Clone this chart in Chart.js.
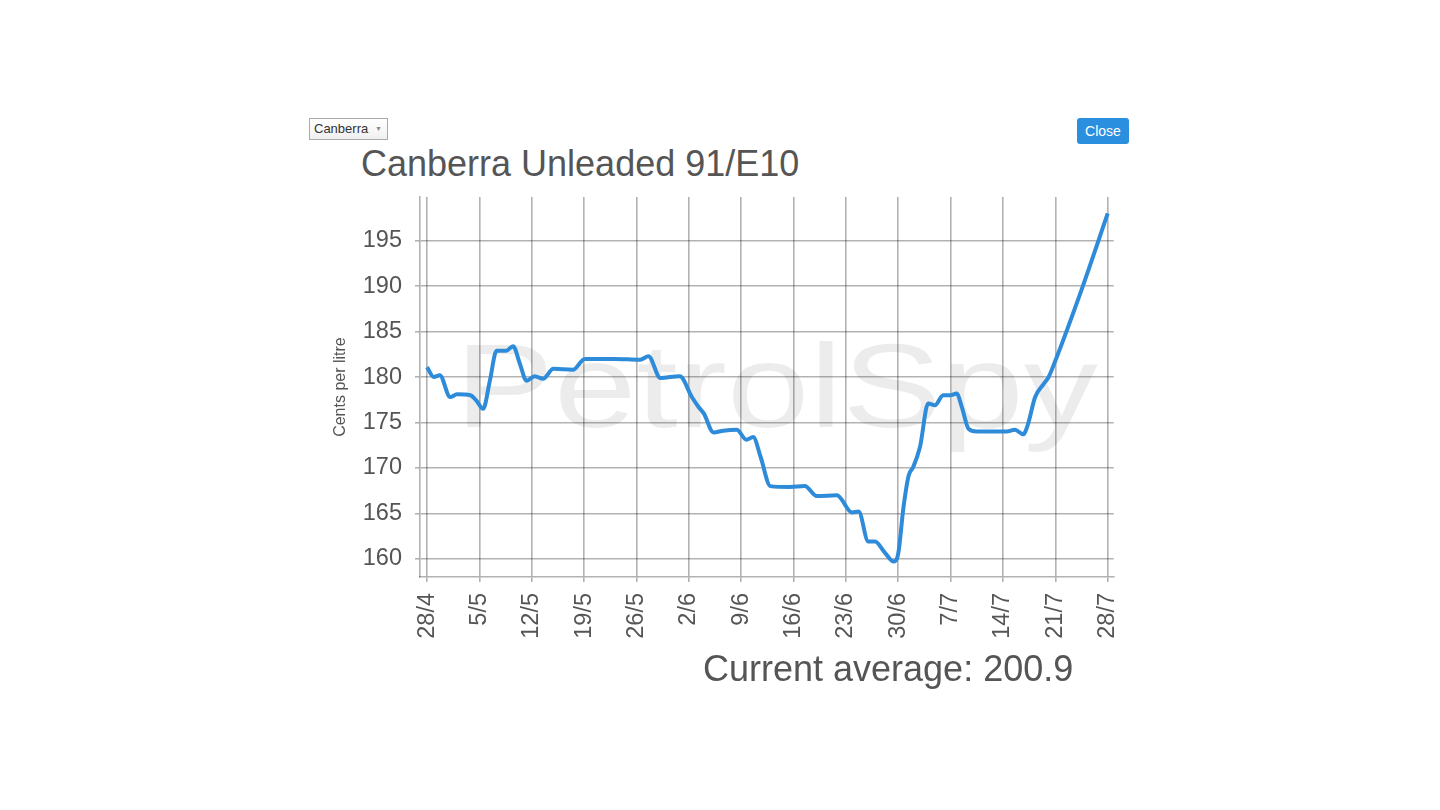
<!DOCTYPE html>
<html>
<head>
<meta charset="utf-8">
<script src="https://cdn.jsdelivr.net/npm/chart.js@4.4.0/dist/chart.umd.min.js"></script>
<style>
  html, body { margin: 0; padding: 0; background: #fff; width: 1440px; height: 810px; overflow: hidden; font-family: "Liberation Sans", Arial, sans-serif; }
  #title { position: absolute; left: 361px; top: 146px; font-size: 36px; line-height: 36px; color: #555; white-space: nowrap; }
  #avg { position: absolute; left: 703px; top: 651px; font-size: 36px; line-height: 36px; color: #555; white-space: nowrap; }
  #sel { position: absolute; left: 309px; top: 118px; width: 79px; height: 22px; border: 1px solid #aaa; box-sizing: border-box;
         background: linear-gradient(#fff, #f0f0f0); font-size: 13px; color: #333; line-height: 20px; padding-left: 4px; }
  #sel span { position: absolute; right: 5px; top: 0; font-size: 7px; color: #888; }
  #close { position: absolute; left: 1077px; top: 118px; width: 52px; height: 26px; background: #2b8fe0; border-radius: 3px;
           color: #fff; font-size: 14px; line-height: 26px; text-align: center; }
  #wrap { position: absolute; left: 300px; top: 170px; width: 847px; height: 490px; }
</style>
</head>
<body>
<div id="sel">Canberra<span>▼</span></div>
<div id="close">Close</div>
<div id="title">Canberra Unleaded 91/E10</div>
<div id="wrap"><canvas id="c" width="847" height="490"></canvas></div>
<div id="avg">Current average: 200.9</div>
<script>
// Day offsets from 28/4
const days = [0, 0.9, 1.7, 3.1, 4, 5.8, 6.6, 7.5, 8.4, 9.3, 10.6, 11.5, 12.4, 13.3, 14.4, 15.5, 16.9, 19.5, 21.1, 25,
  28.5, 29.6, 31.2, 33.8, 35.4, 36.3, 37, 38.3, 39.6, 41.4, 42.7, 43.6, 44.6, 45.9, 48.5, 50.5, 52.1, 54.8, 56.8, 57.7,
  59, 59.9, 61.1, 62.4, 63, 63.7, 64.4, 65, 65.9, 67, 67.9, 69, 70, 70.8, 71.5, 72.4, 73.5, 75.5, 77.5, 78.6,
  79.7, 80.3, 81.3, 82.4, 83.1, 84, 87.5, 91];
const prices = [181.1, 180.0, 180.2, 177.8, 178.1, 178.0, 177.4, 176.5, 179.6, 182.9, 182.9, 183.4, 181.5, 179.6, 180.1, 179.8, 180.9, 180.8, 182.0, 182.0,
  181.9, 182.3, 179.9, 180.1, 177.8, 176.7, 176.0, 173.9, 174.1, 174.2, 173.1, 173.4, 171.2, 168.0, 167.9, 168.0, 166.9, 167.0, 165.1, 165.2,
  161.9, 161.9, 160.8, 159.7, 160.6, 165.7, 169.2, 170.1, 172.3, 177.1, 176.9, 178.0, 178.0, 178.2, 176.7, 174.3, 174.0, 174.0, 174.0, 174.2,
  173.7, 174.7, 177.8, 179.2, 180.0, 181.8, 189.6, 198.0];
const xTickDays = [0, 7, 14, 21, 28, 35, 42, 49, 56, 63, 70, 77, 84, 91];
const xTickLabels = ['28/4', '5/5', '12/5', '19/5', '26/5', '2/6', '9/6', '16/6', '23/6', '30/6', '7/7', '14/7', '21/7', '28/7'];
const yTicks = [160, 165, 170, 175, 180, 185, 190, 195];

const points = days.map((d, i) => ({ x: d, y: prices[i] }));
const gridColor = 'rgba(0,0,0,0.3)';
const fontFam = '"Liberation Sans", Arial, sans-serif';

const watermark = {
  id: 'watermark',
  beforeDraw(chart) {
    const ctx = chart.ctx;
    ctx.save();
    ctx.font = '119px ' + fontFam;
    ctx.fillStyle = 'rgba(0,0,0,0.075)';
    ctx.textBaseline = 'alphabetic';
    const w = ctx.measureText('PetrolSpy').width;
    const targetW = 643;
    ctx.translate(155, 427 - 170);
    ctx.scale(targetW / w, 1);
    ctx.fillText('PetrolSpy', 0, 0);
    ctx.restore();
  }
};

new Chart(document.getElementById('c'), {
  type: 'line',
  data: {
    datasets: [{
      data: points,
      borderColor: '#2d8bd9',
      borderWidth: 4,
      pointRadius: 0,
      fill: false,
      cubicInterpolationMode: 'monotone'
    }]
  },
  options: {
    responsive: false,
    animation: false,
    layout: { padding: { top: 10, right: 10, left: 0, bottom: 0 } },
    plugins: { legend: { display: false }, tooltip: { enabled: false } },
    scales: {
      x: {
        type: 'linear',
        min: -0.94,
        max: 91.8,
        afterBuildTicks(scale) { scale.ticks = xTickDays.map(v => ({ value: v })); },
        afterFit(scale) { scale.height = 83; },
        ticks: {
          autoSkip: false,
          minRotation: 90,
          maxRotation: 90,
          padding: 11,
          color: '#555',
          font: { family: fontFam, size: 23.5 },
          callback(v) { const i = xTickDays.indexOf(v); return i >= 0 ? xTickLabels[i] : ''; }
        },
        grid: { color: gridColor, lineWidth: 1.6, tickLength: 5, drawTicks: true },
        border: { color: gridColor, width: 1.6 }
      },
      y: {
        min: 158,
        max: 199.8,
        afterBuildTicks(scale) { scale.ticks = yTicks.map(v => ({ value: v })); },
        afterFit(scale) { scale.width = 120; },
        ticks: {
          padding: 13,
          color: '#555',
          font: { family: fontFam, size: 23.5 },
          callback(v) { return String(v); }
        },
        grid: { color: gridColor, lineWidth: 1.6, tickLength: 5 },
        border: { color: gridColor, width: 1.6 },
        title: {
          display: true,
          text: 'Cents per litre',
          color: '#555',
          font: { family: fontFam, size: 16 },
          padding: { top: 31, bottom: 0 }
        }
      }
    }
  },
  plugins: [watermark]
});
</script>
</body>
</html>
